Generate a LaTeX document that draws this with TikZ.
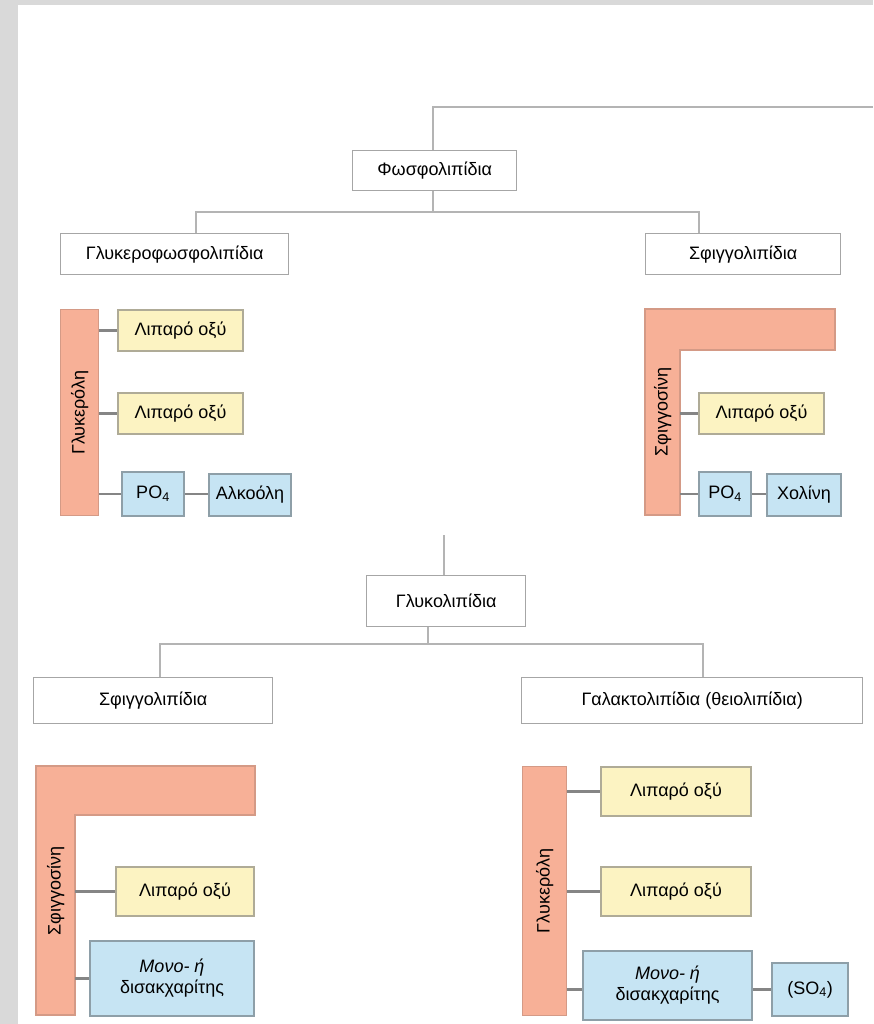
\documentclass[tikz,border=0pt]{standalone}
\usepackage{fontspec}
\setmainfont{Liberation Sans}
\usetikzlibrary{positioning}

\definecolor{pagegray}{HTML}{D9D9D9}
\definecolor{treegray}{HTML}{B4B4B4}
\definecolor{linkgray}{HTML}{858585}
\definecolor{boxgray}{HTML}{A6A6A6}
\definecolor{barfill}{HTML}{F7B097}
\definecolor{bardraw}{HTML}{D49A86}
\definecolor{acidfill}{HTML}{FCF3C2}
\definecolor{acidedge}{HTML}{AFAB97}
\definecolor{bluefill}{HTML}{C6E4F3}
\definecolor{blueedge}{HTML}{8E9FA8}

\tikzset{
  txt/.style={font=\fontsize{18}{21}\selectfont},
  head/.style={txt, draw=boxgray, line width=1.4pt, fill=white, inner sep=0pt, anchor=north west},
  acid/.style={txt, draw=acidedge, line width=2pt, fill=acidfill, inner sep=0pt, anchor=north west},
  part/.style={txt, draw=blueedge, line width=2pt, fill=bluefill, inner sep=0pt, anchor=north west, align=center},
  bar/.style={draw=bardraw, line width=1.2pt, fill=barfill},
  barbox/.style={inner sep=0pt, anchor=north west},
  barlabel/.style={txt, rotate=90},
  tree/.style={draw=treegray, line width=1.4pt},
  link/.style={draw=linkgray, line width=2.6pt}
}

\begin{document}
\begin{tikzpicture}[x=1pt, y=-1pt]
% page
\fill[pagegray] (0,0) rectangle (873,1024);
\fill[white] (18,5) rectangle (873,1024);
\useasboundingbox (0,0) rectangle (873,1024);

% phospholipids
\node[head, minimum width=164, minimum height=40] (phos) at (352,150) {Φωσφολιπίδια};
\node[head, minimum width=228, minimum height=41] (gpl) at (60,233) {Γλυκεροφωσφολιπίδια};
\node[head, minimum width=195, minimum height=41] (spl) at (645,233) {Σφιγγολιπίδια};
\coordinate (ptop) at (873,107);
\coordinate (pfork) at (433,212);
\coordinate (pleft) at (196,212);
\coordinate (pright) at (699,212);
\draw[tree] (pfork |- phos.north) |- (ptop);
\draw[tree] (pfork |- phos.south) -- (pfork);
\draw[tree] (pleft |- gpl.north) -- (pleft) -- (pright) -- (pright |- spl.north);

% glycerol backbone
\node[bar, barbox, minimum width=38, minimum height=206] (glyA) at (60,309) {};
\node[barlabel] (glyAlbl) at (glyA.center) {Γλυκερόλη};
\node[acid, minimum width=125, minimum height=41] (acidA1) at (117,309) {Λιπαρό οξύ};
\node[acid, minimum width=125, minimum height=41] (acidA2) at (117,392) {Λιπαρό οξύ};
\node[part, minimum width=62, minimum height=44] (poA) at (121,471) {PO\textsubscript{4}};
\node[part, minimum width=82, minimum height=42] (alc) at (208,473) {Αλκοόλη};
\draw[link] (glyA.east |- acidA1.west) -- (acidA1.west);
\draw[link] (glyA.east |- acidA2.west) -- (acidA2.west);
\draw[link] (glyA.east |- poA.west) -- (poA.west);
\draw[link] (poA.east) -- (poA.east -| alc.west);

% sphingosine backbone
\draw[bar] (645,309) -- (835,309) -- (835,350) -- (680,350) -- (680,515) -- (645,515) -- cycle;
\node[barbox, minimum width=35, minimum height=206] (sphA) at (645,309) {};
\node[barlabel] (sphAlbl) at (sphA.center) {Σφιγγοσίνη};
\node[acid, minimum width=125, minimum height=41] (acidB) at (698,392) {Λιπαρό οξύ};
\node[part, minimum width=52, minimum height=44] (poB) at (698,471) {PO\textsubscript{4}};
\node[part, minimum width=74, minimum height=42] (chol) at (766,473) {Χολίνη};
\draw[link] (sphA.east |- acidB.west) -- (acidB.west);
\draw[link] (sphA.east |- poB.west) -- (poB.west);
\draw[link] (poB.east) -- (poB.east -| chol.west);

% glycolipids
\node[head, minimum width=159, minimum height=51] (glyco) at (366,575) {Γλυκολιπίδια};
\node[head, minimum width=239, minimum height=46] (gspl) at (33,677) {Σφιγγολιπίδια};
\node[head, minimum width=341, minimum height=46] (gal) at (521,677) {Γαλακτολιπίδια (θειολιπίδια)};
\coordinate (gtop) at (444,535);
\coordinate (gfork) at (428,644);
\coordinate (gleft) at (160,644);
\coordinate (gright) at (703,644);
\draw[tree] (gtop) -- (gtop |- glyco.north);
\draw[tree] (gfork |- glyco.south) -- (gfork);
\draw[tree] (gleft |- gspl.north) -- (gleft) -- (gright) -- (gright |- gal.north);

% sphingosine backbone, sugar
\draw[bar] (36,766) -- (255,766) -- (255,815) -- (75,815) -- (75,1015) -- (36,1015) -- cycle;
\node[barbox, minimum width=39, minimum height=249] (sphB) at (36,766) {};
\node[barlabel] (sphBlbl) at (sphB.center) {Σφιγγοσίνη};
\node[acid, minimum width=138, minimum height=49] (acidC) at (115,866) {Λιπαρό οξύ};
\node[part, minimum width=164, minimum height=75] (sugC) at (89,940) {\itshape Μονο- ή\\δισακχαρίτης};
\draw[link] (sphB.east |- acidC.west) -- (acidC.west);
\draw[link] (sphB.east |- sugC.west) -- (sugC.west);

% glycerol backbone, sugar
\node[bar, barbox, minimum width=44, minimum height=249] (glyB) at (522,766) {};
\node[barlabel] (glyBlbl) at (glyB.center) {Γλυκερόλη};
\node[acid, minimum width=150, minimum height=49] (acidD1) at (600,766) {Λιπαρό οξύ};
\node[acid, minimum width=150, minimum height=49] (acidD2) at (600,866) {Λιπαρό οξύ};
\node[part, minimum width=169, minimum height=69] (sugD) at (582,950) {\itshape Μονο- ή\\δισακχαρίτης};
\node[part, minimum width=76, minimum height=53] (so) at (771,962) {(SO\textsubscript{4})};
\draw[link] (glyB.east |- so.west) -- (so.west -| sugD.west);
\draw[link] (glyB.east |- acidD1.west) -- (acidD1.west);
\draw[link] (glyB.east |- acidD2.west) -- (acidD2.west);
\draw[link] (so.west -| sugD.east) -- (so.west);
\end{tikzpicture}
\end{document}
